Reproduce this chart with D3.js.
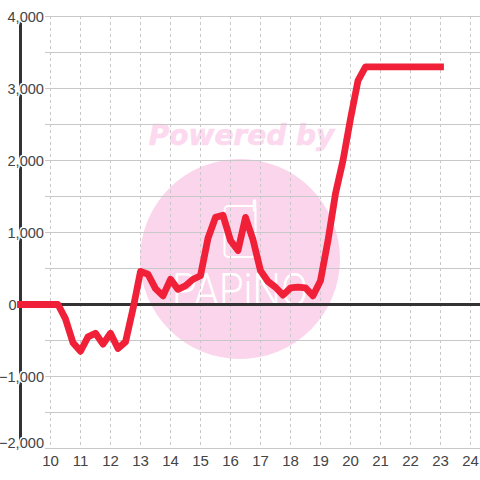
<!DOCTYPE html>
<html><head><meta charset="utf-8">
<script src="https://cdn.jsdelivr.net/npm/d3@7/dist/d3.min.js"></script>
<style>html,body{margin:0;padding:0;background:#fff}svg{display:block}text{font-family:"Liberation Sans",Arial,sans-serif}</style>
</head><body><div id="chart"></div>
<script>
const hours = [9,10.25,10.5,10.75,11,11.25,11.5,11.75,12,12.25,12.5,12.75,13,13.25,13.5,13.75,14,14.25,14.5,14.75,15,15.25,15.5,15.75,16,16.25,16.5,16.75,17,17.25,17.5,17.75,18,18.25,18.5,18.75,19,19.25,19.5,19.75,20,20.25,20.5,23];
const values = [0,0,-200,-530,-650,-450,-400,-550,-400,-610,-520,-60,460,420,220,120,350,210,260,350,400,920,1210,1240,890,750,1210,900,470,320,240,130,230,240,230,120,330,890,1540,2000,2580,3110,3300,3300];
const xTicks = [10,11,12,13,14,15,16,17,18,19,20,21,22,23,24];
const yLabelTicks = [-2000,-1000,0,1000,2000,3000,4000];
const yGridTicks = [-2000,-1500,-1000,-500,0,500,1000,1500,2000,2500,3000,3500,4000];

const x = d3.scaleLinear().domain([9,24]).range([20.5,470.5]);
const y = d3.scaleLinear().domain([-2000,4000]).range([448.5,16.5]);
const svg = d3.select('#chart').append('svg').attr('width',480).attr('height',480);

// watermark
const wm = svg.append('g');
wm.append('circle').attr('cx',240).attr('cy',259).attr('r',100).attr('fill','#fbd5ec');
wm.append('text').attr('x',241.5).attr('y',145).attr('text-anchor','middle')
  .attr('font-size',28).attr('font-weight','bold').attr('font-style','italic')
  .style('font-family','"DejaVu Sans"').attr('fill','#fcd9ee').attr('stroke','#fcd9ee').attr('stroke-width',0.6).text('Powered by');
wm.append('rect').attr('x',224.5).attr('y',206).attr('width',31).attr('height',51).attr('rx',4)
  .attr('fill','none').attr('stroke','#fff').attr('stroke-width',2);
wm.append('line').attr('x1',254.5).attr('x2',254.5).attr('y1',201).attr('y2',210)
  .attr('stroke','#fff').attr('stroke-width',3.5).attr('stroke-linecap','round');
wm.append('text').attr('x',172).attr('y',306).attr('textLength',136).attr('lengthAdjust','spacingAndGlyphs')
  .attr('font-size',46).attr('font-weight',300).style('font-family','Roboto').attr('fill','#fff').text('PAPiNO');

// grid
svg.append('g').selectAll('line').data(yGridTicks).join('line')
  .attr('x1',45).attr('x2',480).attr('y1',d=>y(d)).attr('y2',d=>y(d))
  .attr('stroke','#c8c8c8').attr('stroke-width',1);
svg.append('g').selectAll('line').data(xTicks).join('line')
  .attr('x1',d=>x(d)).attr('x2',d=>x(d)).attr('y1',16).attr('y2',448)
  .attr('stroke','#c8c8c8').attr('stroke-width',1).attr('stroke-dasharray','3,3');

// axes
svg.append('line').attr('x1',20.5).attr('x2',20.5).attr('y1',16).attr('y2',448).attr('stroke','#333').attr('stroke-width',3);
svg.append('line').attr('x1',20).attr('x2',480).attr('y1',y(0)).attr('y2',y(0)).attr('stroke','#333').attr('stroke-width',3);

// labels
const fmt = d3.format(',');
svg.append('g').selectAll('text').data(yLabelTicks).join('text')
  .attr('x',d=>d===0?16.5:44).attr('y',d=>y(d)+(d===-2000?-1:5.3)).attr('text-anchor','end').attr('font-size',14.6)
  .attr('fill','#444').attr('stroke','#fff').attr('stroke-width',3).attr('paint-order','stroke').text(d=>fmt(d));
svg.append('g').selectAll('text').data(xTicks).join('text')
  .attr('x',d=>x(d)).attr('y',466).attr('text-anchor','middle').attr('font-size',15)
  .attr('fill','#444').text(d=>d);

// line
const line = d3.line().x((d,i)=>x(hours[i])).y(d=>y(d));
svg.append('path').datum(values).attr('d',line).attr('fill','none')
  .attr('stroke','#f02038').attr('stroke-width',6.8).attr('stroke-linecap','square').attr('stroke-linejoin','round');
</script></body></html>
